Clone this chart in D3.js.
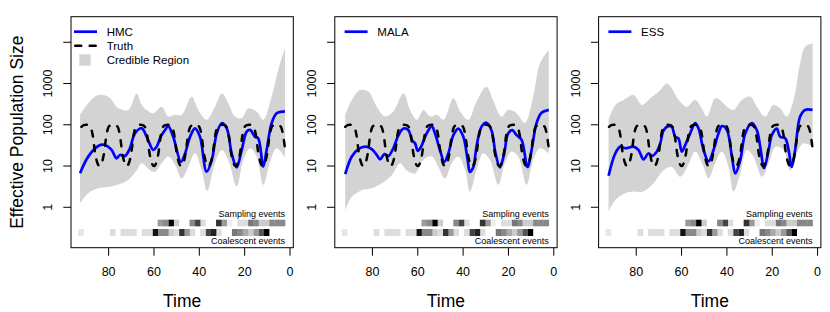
<!DOCTYPE html>
<html>
<head>
<meta charset="utf-8">
<script src="https://cdn.jsdelivr.net/npm/d3@7"></script>
<style>
  body { margin: 0; background: #ffffff; }
  svg { display: block; font-family: "Liberation Sans", Arial, Helvetica, sans-serif; }
</style>
</head>
<body>
<div id="chart"></div>
<script>
const methods = ["HMC", "MALA", "ESS"];
const timeTicks = [80, 60, 40, 20, 0];
const sizeTicks = [1, 10, 100, 1000, 10000];
const sizeTickLabels = ["1", "10", "100", "1000", ""];

// true trajectory, one value per time unit from t = 92 down to t = 2
const truthTime = d3.range(92, 1, -1);
const truthSize = [
  89, 98, 100, 98, 89, 55, 21, 12, 10, 12, 21, 55,
  89, 98, 100, 98, 89, 55, 21, 12, 10, 12, 21, 55,
  89, 98, 100, 98, 89, 55, 21, 12, 10, 12, 21, 55,
  89, 98, 100, 98, 89, 55, 21, 12, 10, 12, 21, 55,
  89, 98, 100, 98, 89, 55, 21, 12, 10, 12, 21, 55,
  89, 98, 100, 98, 89, 55, 21, 12, 10, 12, 21, 55,
  89, 98, 100, 98, 89, 55, 21, 12, 10, 12, 21, 55,
  89, 98, 100, 98, 89, 55, 21
];

// [time, effective population size]
const hmcMedian = [
  [92.6, 6.7], [89, 16.9], [84.6, 30.6], [81.6, 32.4], [78.7, 24.5], [76.5, 15.4], [75, 18.5],
  [72.8, 17.5], [70.6, 27], [68.4, 62], [65.4, 82], [63.2, 51], [60.3, 24.5], [58.8, 29.5],
  [56.9, 53], [55.1, 75], [53.7, 93], [51.5, 51], [48.1, 12.7], [46.3, 20], [44.1, 51],
  [41.9, 82], [39.7, 51], [36.8, 7.3], [34.5, 14], [32.3, 62], [30.1, 109], [27.9, 82],
  [25.7, 20], [23.5, 9.3], [21.3, 24.5], [19.1, 68], [17.6, 75], [15.4, 51], [14, 47],
  [11.8, 9.7], [10.3, 24.5], [8.1, 109], [5.9, 190], [3, 209], [2.2, 210]
];
const hmcUpper = [
  [92.6, 174], [89, 331], [84.6, 525], [80.1, 479], [75.7, 251], [71.3, 229], [67.6, 575],
  [65.4, 302], [63.2, 229], [60.3, 191], [56.6, 275], [53.7, 158], [50.7, 174], [47.8, 174],
  [43.4, 479], [40.4, 229], [36.8, 132], [33.1, 275], [30.1, 575], [27.2, 331], [24.3, 158],
  [21.3, 145], [18.4, 251], [14.7, 209], [11.8, 132], [8.1, 479], [5.2, 2140], [2.2, 7080]
];
const hmcLower = [
  [92.6, 1.26], [89, 2.2], [84.6, 2.9], [78.7, 3.2], [74.2, 3.8], [70.6, 5], [67.6, 7.9],
  [65.4, 11.7], [61.8, 7.9], [59.6, 7.2], [56.6, 11.7], [53.7, 17], [50.7, 10.7], [47.8, 5],
  [44.9, 9.5], [41.9, 20.4], [39, 7.9], [36.5, 2.5], [33.1, 11.7], [30.1, 24.5], [27.2, 14],
  [23.5, 3.2], [20.6, 14], [17.6, 27], [14.7, 17], [11.8, 3.5], [8.8, 12.6], [5.9, 27], [2.2, 16]
];

const malaMedian = [
  [92, 6.4], [89.1, 17], [86.2, 25.7], [83.2, 29.5], [80.3, 25.7], [78.1, 18.6], [76.6, 14.5],
  [74.7, 19.5], [73, 17.4], [70.8, 26.9], [68.5, 56], [66.3, 81], [64.1, 74], [62.6, 43],
  [61.2, 35.5], [60, 23.4], [58.5, 29.5], [56.8, 51], [55.3, 74], [53.8, 93], [52.4, 62],
  [50.2, 24.5], [48.3, 12.6], [46.5, 20.4], [44.3, 56], [42.1, 81], [39.9, 51], [38, 14.1],
  [37, 7.2], [35.5, 9.5], [34.1, 29.5], [31.9, 89], [29.7, 112], [27.5, 74], [25.7, 20.4],
  [23.8, 9.3], [22, 18.6], [20.1, 62], [18.3, 74], [16.4, 56], [14.2, 43], [11.6, 9.5],
  [9.8, 24.5], [7.6, 110], [5.4, 195], [2.2, 229]
];
const malaUpper = [
  [92, 174], [89.1, 398], [85.4, 692], [81.7, 631], [78.1, 275], [74.4, 158], [70.8, 209],
  [66.3, 575], [63.4, 229], [60.4, 132], [57.5, 229], [54.5, 158], [51.6, 174], [48.6, 132],
  [44.3, 437], [41.3, 209], [37.7, 132], [34.1, 363], [29.7, 832], [26.8, 398], [23.1, 158],
  [20.1, 229], [16.4, 191], [12.8, 110], [9.1, 479], [6.1, 3090], [2.2, 6460]
];
const malaLower = [
  [92, 0.85], [89.1, 1.8], [84.7, 2.6], [80.3, 2.9], [75.9, 3.8], [71.5, 6], [67.8, 11.7],
  [64.9, 7.9], [61.2, 6.6], [57.5, 14.1], [53.8, 17], [50.9, 9.5], [48, 5], [45, 11.7],
  [42.1, 17], [39.1, 7.9], [37, 2.4], [34.1, 7.9], [31.1, 20.4], [28.2, 14.1], [24.5, 3.5],
  [21.6, 11.7], [18.6, 22.4], [15.7, 17], [12, 3.5], [9.1, 14.1], [6.1, 27], [2.2, 20.4]
];

const essMedian = [
  [92.2, 5.8], [89.2, 20.4], [87, 29.5], [84.8, 27], [81.2, 29.5], [79, 24.5], [76.8, 14.5],
  [74.6, 20.4], [73.1, 17.4], [70.9, 22.4], [69.4, 35.5], [67.9, 74], [65.8, 93], [64.3, 89],
  [62.8, 51], [61.4, 47], [59.9, 22.4], [58.4, 32], [56.2, 62], [54, 110], [52.5, 81],
  [50.3, 24.5], [48.1, 12.9], [45.9, 24.5], [43.7, 62], [42.2, 93], [40, 74], [37.8, 17],
  [36.3, 6.6], [34.1, 14.1], [31.9, 62], [29, 110], [26.8, 74], [25.3, 29.5], [23.6, 8.9],
  [21.6, 24.5], [20.2, 56], [18, 81], [16.5, 51], [14.3, 47], [12.8, 24.5], [11.4, 9.5],
  [9.9, 24.5], [7.7, 158], [5.5, 229], [2.2, 229]
];
const essUpper = [
  [92.2, 132], [89.2, 302], [85.5, 398], [81.2, 525], [77.5, 302], [73.8, 437], [70.1, 631],
  [66.5, 1000], [64.3, 759], [61.3, 398], [57.7, 275], [54, 398], [51.1, 251], [48.8, 158],
  [45.2, 437], [43, 398], [40, 275], [37.1, 229], [33.4, 398], [29.7, 479], [26.8, 275],
  [23.1, 158], [19.5, 302], [16.5, 251], [13.6, 158], [10.6, 398], [7.7, 3090], [5.5, 7760],
  [2.2, 9330]
];
const essLower = [
  [92.2, 0.79], [89.2, 1.5], [84.8, 2.2], [81.2, 2.4], [76.8, 2.4], [72.4, 3.8], [67.9, 7.9],
  [64.3, 9.5], [60.6, 5.5], [57, 10.7], [54, 22.4], [50.3, 9.5], [48.1, 5], [45.2, 11.7],
  [42.2, 22.4], [39.3, 9.5], [37.1, 2.4], [34.1, 6.6], [31.2, 24.5], [28.3, 17], [24.5, 5.5],
  [21.6, 11.7], [18.6, 29.5], [15, 24.5], [12.1, 7.9], [9.2, 20.4], [6.2, 35.5], [2.2, 29.5]
];

// event heatmaps: grey level (0 black .. 255 white) per time bin, bins run back from heatStart
const heatStart = 2.2;
const heatStep = 2.34;
const samplingShade = [
  136, 136, 136, 204, 204, 136, 119, 221, 221, 255, 238, 153, 51, 255, 255, 221, 68, 136,
  255, 255, 204, 0, 136, 153
];
const coalescentShade = [
  255, 255, 255, 0, 85, 153, 204, 170, 136, 119, 255, 255, 221, 34, 68, 221, 255, 221, 153,
  51, 221, 204, 136, 136, 17, 221, 221, 255, 221, 221, 221, 255, 221, 255, 255, 255, 255, 255, 230
];

const panels = [
  { name: methods[0], median: hmcMedian, upper: hmcUpper, lower: hmcLower },
  { name: methods[1], median: malaMedian, upper: malaUpper, lower: malaLower },
  { name: methods[2], median: essMedian, upper: essUpper, lower: essLower }
];

const width = 830;
const height = 312;
const plotW = 222.3;
const plotTop = 16.7;
const plotBottom = 247.7;
const panelStep = 263.8;

const svg = d3.select("#chart").append("svg").attr("width", width).attr("height", height);

const y = d3.scaleLog().domain([Math.pow(10, -0.98), Math.pow(10, 4.62)]).range([plotBottom, plotTop]);

function drawPanel(p, i) {
  const left = 71 + i * panelStep;
  const x = d3.scaleLinear().domain([96.6, -1.46]).range([left, left + plotW]);
  const g = svg.append("g");

  const clipId = "clip" + i;
  svg.append("clipPath").attr("id", clipId)
    .append("rect").attr("x", left).attr("y", plotTop).attr("width", plotW).attr("height", plotBottom - plotTop);

  const line = d3.line()
    .x(d => x(d[0]))
    .y(d => y(d[1]))
    .curve(d3.curveCatmullRom.alpha(0.5));

  // credible region: upper edge forward, lower edge back
  const upperPath = line(p.upper);
  const lowerPath = line(p.lower.slice().reverse());
  g.append("path")
    .attr("clip-path", `url(#${clipId})`)
    .attr("d", upperPath + "L" + lowerPath.slice(1) + "Z")
    .attr("fill", "#d3d3d3");

  g.append("path")
    .attr("clip-path", `url(#${clipId})`)
    .attr("d", line(p.median))
    .attr("fill", "none")
    .attr("stroke", "#0000ff")
    .attr("stroke-width", 2.7)
    .attr("stroke-linejoin", "round");

  const truthLine = d3.line()
    .x(d => x(d[0]))
    .y(d => y(d[1]))
    .curve(d3.curveMonotoneX);
  g.append("path")
    .attr("d", truthLine(truthTime.map((t, k) => [t, truthSize[k]])))
    .attr("fill", "none")
    .attr("stroke", "#000")
    .attr("stroke-width", 2.5)
    .attr("stroke-linecap", "round")
    .attr("stroke-dasharray", "6,8.5");

  // heatmaps
  const rows = [
    { shades: samplingShade, top: plotTop + 203, h: 6.6 },
    { shades: coalescentShade, top: plotTop + 212.3, h: 7 }
  ];
  rows.forEach(r => {
    g.selectAll(null)
      .data(r.shades.map((s, k) => ({ s, k })).filter(d => d.s < 255))
      .enter().append("rect")
      .attr("x", d => x(heatStart + heatStep * (d.k + 1)))
      .attr("width", d => x(heatStart + heatStep * d.k) - x(heatStart + heatStep * (d.k + 1)) + 0.3)
      .attr("y", r.top)
      .attr("height", r.h)
      .attr("fill", d => d3.rgb(d.s, d.s, d.s));
  });

  g.append("text")
    .attr("x", x(heatStart)).attr("y", plotTop + 200.5)
    .attr("text-anchor", "end").attr("font-size", "9px")
    .text("Sampling events");
  g.append("text")
    .attr("x", x(heatStart)).attr("y", plotTop + 227)
    .attr("text-anchor", "end").attr("font-size", "9px")
    .text("Coalescent events");

  // box
  g.append("rect")
    .attr("x", left).attr("y", plotTop)
    .attr("width", plotW).attr("height", plotBottom - plotTop)
    .attr("fill", "none").attr("stroke", "#000").attr("stroke-width", 1);

  // x axis
  timeTicks.forEach(t => {
    g.append("line")
      .attr("x1", x(t)).attr("x2", x(t))
      .attr("y1", plotBottom).attr("y2", plotBottom + 8)
      .attr("stroke", "#000");
    g.append("text")
      .attr("x", x(t)).attr("y", 271.7)
      .attr("text-anchor", "middle").attr("dominant-baseline", "central")
      .attr("font-size", "12.5px")
      .text(t);
  });
  g.append("text")
    .attr("x", left + plotW / 2).attr("y", 301)
    .attr("text-anchor", "middle").attr("dominant-baseline", "central")
    .attr("font-size", "17.5px")
    .text("Time");

  // y axis
  sizeTicks.forEach((v, k) => {
    g.append("line")
      .attr("x1", left - 7.7).attr("x2", left)
      .attr("y1", y(v)).attr("y2", y(v))
      .attr("stroke", "#000");
    g.append("text")
      .attr("transform", `translate(${left - 22.7},${y(v)}) rotate(-90)`)
      .attr("text-anchor", "middle").attr("dominant-baseline", "central")
      .attr("font-size", "12.5px")
      .text(sizeTickLabels[k]);
  });

  // legend
  const lx = i === 0 ? left + 3 : left + 9.8;
  const legend = g.append("g");
  legend.append("line")
    .attr("x1", lx).attr("x2", lx + 23)
    .attr("y1", 31.7).attr("y2", 31.7)
    .attr("stroke", "#0000ff").attr("stroke-width", 2.7);
  legend.append("text")
    .attr("x", lx + 32.7).attr("y", 31.7)
    .attr("dominant-baseline", "central").attr("font-size", "11.5px")
    .text(p.name);
  if (i === 0) {
    legend.append("line")
      .attr("x1", lx + 1.2).attr("x2", lx + 23)
      .attr("y1", 45.7).attr("y2", 45.7)
      .attr("stroke", "#000").attr("stroke-width", 2.5)
      .attr("stroke-linecap", "round").attr("stroke-dasharray", "6,8.5");
    legend.append("text")
      .attr("x", lx + 32.7).attr("y", 45.7)
      .attr("dominant-baseline", "central").attr("font-size", "11.5px")
      .text("Truth");
    legend.append("rect")
      .attr("x", lx + 5.3).attr("y", 54.3)
      .attr("width", 11.4).attr("height", 11.4)
      .attr("fill", "#d3d3d3");
    legend.append("text")
      .attr("x", lx + 32.7).attr("y", 60)
      .attr("dominant-baseline", "central").attr("font-size", "11.5px")
      .text("Credible Region");
  }
}

panels.forEach(drawPanel);

svg.append("text")
  .attr("transform", `translate(17,${(plotTop + plotBottom) / 2}) rotate(-90)`)
  .attr("text-anchor", "middle").attr("dominant-baseline", "central")
  .attr("font-size", "17.5px")
  .text("Effective Population Size");
</script>
</body>
</html>
